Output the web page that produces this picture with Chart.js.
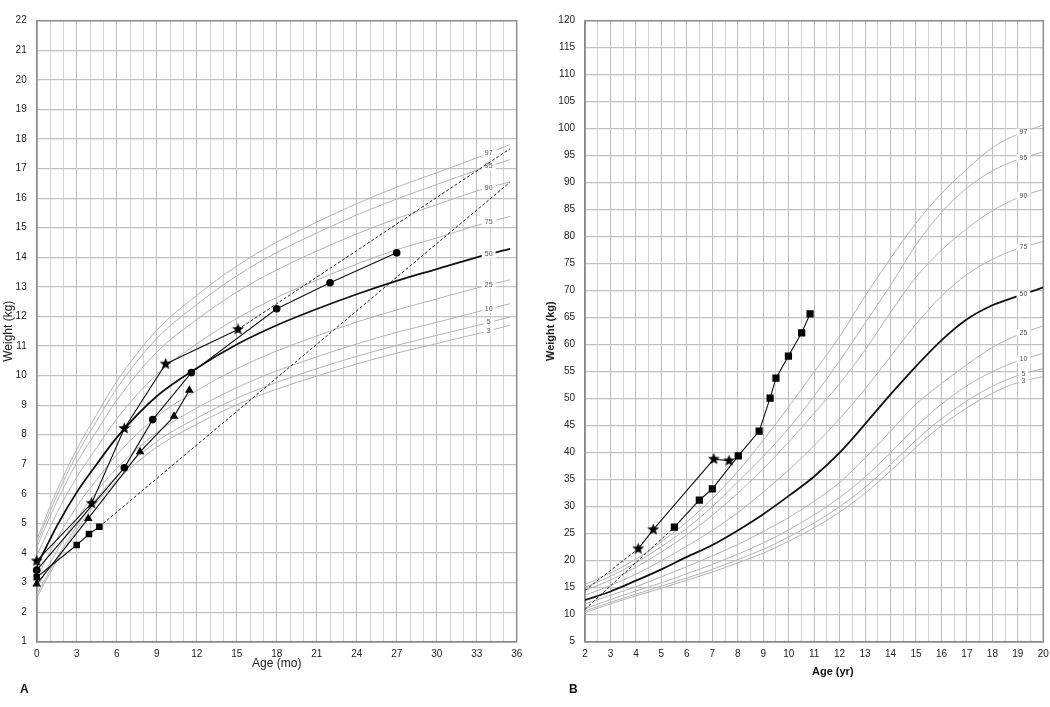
<!DOCTYPE html>
<html>
<head>
<meta charset="utf-8">
<script src="https://cdn.jsdelivr.net/npm/chart.js@4.4.0/dist/chart.umd.min.js"></script>
<style>
  html, body { margin: 0; padding: 0; background: #fff; }
  #wrap { position: relative; width: 1050px; height: 707px; font-family: "Liberation Sans", Arial, sans-serif; color: #111; }
  .panel { position: absolute; top: 0; width: 525px; height: 707px; }
  #panelA { left: 0; }
  #panelB { left: 525px; }
  .tag { position: absolute; font-weight: bold; font-size: 12px; line-height: 12px; }
</style>
</head>
<body>
<div id="wrap">
  <div class="panel" id="panelA"><canvas id="chartA" width="525" height="707"></canvas></div>
  <div class="panel" id="panelB"><canvas id="chartB" width="525" height="707"></canvas></div>
  <div class="tag" style="left:20px; top:683px;">A</div>
  <div class="tag" style="left:569px; top:683px;">B</div>
  <div class="tag" style="left:812px; top:665px; font-size:11px;">Age (yr)</div>
</div>
<script>
// ---- Panel A: weight-for-age, birth to 36 months ----
const agesA = [0, 1.5, 3, 4.5, 6, 9, 12, 15, 18, 21, 24, 27, 30, 33, 35.5];
const a_p3  = [2.49, 3.72, 4.78, 5.71, 6.44, 7.58, 8.35, 9.01, 9.54, 9.98, 10.39, 10.76, 11.08, 11.41, 11.70];
const a_p5  = [2.59, 3.82, 4.90, 5.85, 6.60, 7.77, 8.56, 9.23, 9.77, 10.23, 10.65, 11.02, 11.36, 11.69, 11.98];
const a_p10 = [2.80, 4.07, 5.14, 6.08, 6.86, 8.07, 8.90, 9.59, 10.16, 10.63, 11.07, 11.46, 11.80, 12.15, 12.43];
const a_p25 = [3.16, 4.46, 5.57, 6.48, 7.32, 8.61, 9.49, 10.23, 10.83, 11.34, 11.81, 12.22, 12.59, 12.96, 13.24];
const a_p50 = [3.55, 4.90, 6.05, 7.00, 7.90, 9.30, 10.25, 11.05, 11.70, 12.25, 12.75, 13.20, 13.60, 14.00, 14.28];
const a_p75 = [3.91, 5.34, 6.56, 7.56, 8.53, 10.04, 11.07, 11.93, 12.64, 13.23, 13.77, 14.26, 14.65, 15.08, 15.38];
const a_p90 = [4.19, 5.73, 7.05, 8.12, 9.16, 10.79, 11.89, 12.82, 13.57, 14.21, 14.79, 15.31, 15.78, 16.24, 16.55];
const a_p95 = [4.33, 5.93, 7.32, 8.47, 9.56, 11.25, 12.40, 13.37, 14.16, 14.82, 15.43, 15.97, 16.46, 16.94, 17.30];
const a_p97 = [4.44, 6.10, 7.50, 8.68, 9.80, 11.53, 12.71, 13.70, 14.51, 15.19, 15.81, 16.37, 16.86, 17.36, 17.81];

// patients (A)
const starA_age = [0, 4.12, 6.57, 9.67, 15.1];
const starA_wt  = [3.73, 5.68, 8.21, 10.39, 11.56];
const circleA_age = [0, 6.57, 8.7, 11.6, 18.0, 22.0, 27.0];
const circleA_wt  = [3.42, 6.88, 8.51, 10.1, 12.26, 13.14, 14.15];
const triA_age = [0, 3.87, 7.75, 10.3, 11.45];
const triA_wt  = [2.95, 5.17, 7.42, 8.62, 9.5];
const squareA_age = [0, 3.0, 3.92, 4.7];
const squareA_wt  = [3.18, 4.27, 4.64, 4.89];
const projStarA_age = [15.1, 35.5];
const projStarA_wt  = [11.56, 17.67];
const projSquareA_age = [4.7, 35.5];
const projSquareA_wt  = [4.89, 16.54];

// ---- Panel B: weight-for-age, 2 to 20 years ----
const agesB = [2, 3, 4, 5, 6, 7, 8, 9, 10, 11, 12, 13, 14, 15, 16, 17, 18, 19, 20];
const b_p3  = [10.4, 12.0, 13.5, 14.9, 16.4, 17.9, 19.6, 21.4, 23.6, 26.1, 29.0, 32.5, 36.6, 41.0, 45.0, 48.3, 51.0, 53.0, 54.1];
const b_p5  = [10.7, 12.3, 13.8, 15.3, 16.8, 18.4, 20.2, 22.1, 24.4, 27.0, 30.0, 33.6, 37.8, 42.3, 46.3, 49.6, 52.3, 54.3, 55.6];
const b_p10 = [11.1, 12.8, 14.4, 15.9, 17.6, 19.3, 21.2, 23.3, 25.7, 28.5, 31.7, 35.5, 40.0, 44.8, 49.0, 52.4, 55.0, 57.0, 58.4];
const b_p25 = [12.0, 13.6, 15.2, 17.0, 18.9, 20.9, 23.0, 25.4, 28.0, 31.0, 34.5, 39.0, 44.0, 49.0, 52.8, 56.3, 59.5, 61.8, 63.5];
const b_p50 = [12.7, 14.3, 16.3, 18.4, 20.7, 22.9, 25.6, 28.6, 32.0, 35.6, 40.0, 45.3, 50.8, 56.0, 60.8, 64.7, 67.3, 69.0, 70.6];
const b_p75 = [13.6, 15.4, 17.5, 20.0, 22.7, 25.6, 28.9, 32.7, 36.8, 41.3, 46.3, 51.8, 57.8, 63.8, 69.0, 73.0, 75.8, 77.8, 79.1];
const b_p90 = [14.5, 16.4, 18.8, 21.6, 24.8, 28.4, 32.5, 37.0, 42.0, 47.3, 52.8, 59.0, 66.0, 72.5, 77.5, 81.5, 84.8, 87.2, 88.8];
const b_p95 = [15.1, 17.1, 19.6, 22.6, 26.0, 30.0, 34.6, 39.3, 44.5, 50.5, 57.0, 64.0, 71.0, 78.5, 84.5, 89.0, 92.2, 94.3, 95.7];
const b_p97 = [15.6, 17.7, 20.3, 23.5, 27.2, 31.5, 36.5, 42.3, 48.5, 55.0, 61.5, 69.0, 76.0, 82.5, 88.0, 92.5, 96.5, 99.0, 100.7];

// patients (B)
const starB_age = [4.09, 4.68, 7.06, 7.66];
const starB_wt  = [22.2, 25.75, 38.8, 38.5];
const squareB_age = [5.51, 6.49, 7.0, 8.02, 8.84, 9.27, 9.5, 9.99, 10.51, 10.84];
const squareB_wt  = [26.2, 31.2, 33.3, 39.4, 44.0, 50.1, 53.8, 57.9, 62.2, 65.7];
const projStarB_age = [2, 4.09];
const projStarB_wt  = [14.5, 22.2];
const projSquareB_age = [2, 5.51];
const projSquareB_wt  = [11.0, 26.2];

const FONT = '"Liberation Sans", Arial, sans-serif';
Chart.defaults.font.family = FONT;
Chart.defaults.color = '#222';

// filled five-point star used as point marker
function makeStar(r) {
    const size = Math.ceil(r * 2 + 2);
    const c = document.createElement('canvas');
    c.width = size;
    c.height = size;
    const g = c.getContext('2d');
    g.fillStyle = '#000';
    g.beginPath();
    for (let i = 0; i < 10; i++) {
        const rad = i % 2 === 0 ? r : r * 0.42;
        const a = -Math.PI / 2 + i * Math.PI / 5;
        const px = size / 2 + rad * Math.cos(a);
        const py = size / 2 + rad * Math.sin(a);
        if (i === 0) g.moveTo(px, py); else g.lineTo(px, py);
    }
    g.closePath();
    g.fill();
    return c;
}
const starMarker = makeStar(6.3);

function toPoints(xs, ys) {
    return xs.map((x, i) => ({ x: x, y: ys[i] }));
}

function curveSet(ages, vals, label) {
    const median = label === '50';
    return {
        label: label,
        pctLabel: label,
        data: toPoints(ages, vals),
        borderColor: median ? '#111' : '#b4b4b4',
        borderWidth: median ? 1.8 : 1,
        pointRadius: 0,
        cubicInterpolationMode: 'monotone',
        order: median ? 2 : 3
    };
}

function patientSet(ages, vals, style, radius) {
    return {
        data: toPoints(ages, vals),
        borderColor: '#111',
        borderWidth: 1.1,
        pointStyle: style,
        pointRadius: radius,
        pointBackgroundColor: '#000',
        pointBorderColor: '#000',
        pointBorderWidth: 0,
        tension: 0,
        clip: 12,
        order: 0
    };
}

function projectionSet(ages, vals) {
    return {
        data: toPoints(ages, vals),
        borderColor: '#222',
        borderWidth: 1,
        borderDash: [3, 2],
        pointRadius: 0,
        tension: 0,
        order: 1
    };
}

// percentile tags written into a gap of each curve
const pctLabelPlugin = {
    id: 'pctLabels',
    afterDatasetDraw(chart, args, opts) {
        const ds = chart.data.datasets[args.index];
        if (!ds.pctLabel) return;
        const at = opts.at;
        const pts = ds.data;
        let v = null;
        for (let i = 1; i < pts.length; i++) {
            if (pts[i].x >= at) {
                const p = pts[i - 1], q = pts[i];
                v = p.y + (q.y - p.y) * (at - p.x) / (q.x - p.x);
                break;
            }
        }
        if (v === null) return;
        const x = chart.scales.x.getPixelForValue(at);
        const y = chart.scales.y.getPixelForValue(v);
        const ctx = chart.ctx;
        ctx.save();
        ctx.font = '7px ' + FONT;
        const w = ctx.measureText(ds.pctLabel).width;
        ctx.fillStyle = '#fff';
        ctx.fillRect(x - w / 2 - 3, y - 3.5, w + 6, 7);
        ctx.fillStyle = '#555';
        ctx.textAlign = 'center';
        ctx.textBaseline = 'middle';
        ctx.fillText(ds.pctLabel, x, y);
        ctx.restore();
    }
};

const framePlugin = {
    id: 'frame',
    beforeDatasetsDraw(chart) {
        const { ctx, chartArea: a } = chart;
        ctx.save();
        ctx.strokeStyle = '#8c8c8c';
        ctx.lineWidth = 1.5;
        ctx.strokeRect(a.left, a.top, a.right - a.left, a.bottom - a.top);
        ctx.restore();
    }
};

function buildChart(id, o) {
    return new Chart(document.getElementById(id), {
        type: 'line',
        data: { datasets: o.datasets },
        plugins: [framePlugin, pctLabelPlugin],
        options: {
            responsive: false,
            animation: false,
            events: [],
            layout: { padding: o.padding },
            plugins: {
                legend: { display: false },
                tooltip: { enabled: false },
                pctLabels: { at: o.labelAt }
            },
            scales: {
                x: {
                    type: 'linear',
                    min: o.xMin, max: o.xMax,
                    afterFit: s => { s.height = 65.3; s.paddingLeft = 0; s.paddingRight = 0; },
                    border: { color: '#8c8c8c', width: 1.5 },
                    grid: {
                        drawTicks: false,
                        lineWidth: 1,
                        color: c => (c.tick && o.xMajor(c.tick.value)) ? '#bdbdbd' : '#d4d4d4'
                    },
                    ticks: {
                        stepSize: o.xStep,
                        autoSkip: false,
                        maxTicksLimit: 200,
                        maxRotation: 0,
                        padding: 7,
                        font: { size: 10 },
                        callback: v => o.xMajor(v) ? String(v) : ''
                    },
                    title: o.xTitle
                },
                y: {
                    min: o.yMin, max: o.yMax,
                    afterFit: s => { s.width = o.yWidth; s.paddingTop = 0; s.paddingBottom = 0; },
                    border: { color: '#8c8c8c', width: 1.5 },
                    grid: { drawTicks: false, lineWidth: 1.2, color: '#c2c2c2' },
                    ticks: { stepSize: o.yStep, padding: 10, font: { size: 10 } },
                    title: o.yTitle
                }
            }
        }
    });
}

const curvesA = [['3', a_p3], ['5', a_p5], ['10', a_p10], ['25', a_p25], ['50', a_p50],
                 ['75', a_p75], ['90', a_p90], ['95', a_p95], ['97', a_p97]];
const curvesB = [['3', b_p3], ['5', b_p5], ['10', b_p10], ['25', b_p25], ['50', b_p50],
                 ['75', b_p75], ['90', b_p90], ['95', b_p95], ['97', b_p97]];

buildChart('chartA', {
    datasets: [
        patientSet(starA_age, starA_wt, starMarker, 6),
        patientSet(circleA_age, circleA_wt, 'circle', 3.8),
        patientSet(triA_age, triA_wt, 'triangle', 5),
        patientSet(squareA_age, squareA_wt, 'rect', 4.6),
        projectionSet(projStarA_age, projStarA_wt),
        projectionSet(projSquareA_age, projSquareA_wt)
    ].concat(curvesA.map(c => curveSet(agesA, c[1], c[0]))),
    padding: { left: 0, right: 8.3, top: 20.7, bottom: 0 },
    labelAt: 33.9,
    xMin: 0, xMax: 36, xStep: 1,
    xMajor: v => Math.abs(v % 3) < 1e-6,
    yMin: 1, yMax: 22, yStep: 1,
    yWidth: 36.7,
    xTitle: { display: true, text: 'Age (mo)', font: { size: 12 }, padding: { top: 0, bottom: 36 } },
    yTitle: { display: true, text: 'Weight (kg)', font: { size: 12 }, padding: { top: 1, bottom: 0 } }
});

buildChart('chartB', {
    datasets: [
        patientSet(starB_age, starB_wt, starMarker, 6),
        patientSet(squareB_age, squareB_wt, 'rect', 5.1),
        projectionSet(projStarB_age, projStarB_wt),
        projectionSet(projSquareB_age, projSquareB_wt)
    ].concat(curvesB.map(c => curveSet(agesB, c[1], c[0]))),
    padding: { left: 0, right: 6.7, top: 20.7, bottom: 0 },
    labelAt: 19.22,
    xMin: 2, xMax: 20, xStep: 0.5,
    xMajor: v => Math.abs(v - Math.round(v)) < 1e-6,
    yMin: 5, yMax: 120, yStep: 5,
    yWidth: 60,
    xTitle: { display: false },
    yTitle: { display: true, text: 'Weight (kg)', font: { size: 11, weight: 'bold' }, padding: { top: 19, bottom: 0 } }
});
</script>
</body>
</html>
